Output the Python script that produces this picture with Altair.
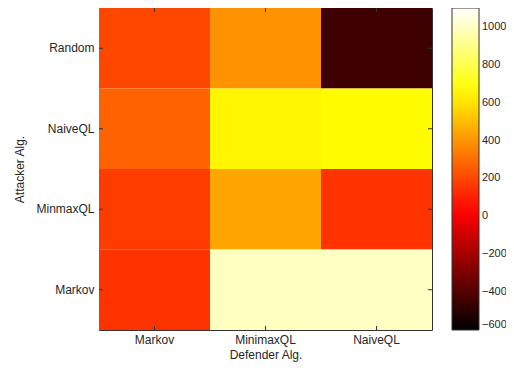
import altair as alt
import pandas as pd

attackers = ["Random", "NaiveQL", "MinmaxQL", "Markov"]
defenders = ["Markov", "MinimaxQL", "NaiveQL"]
# rows follow attackers, columns follow defenders
values = [
    [200, 390, -450],
    [270, 645, 660],
    [172, 441, 150],
    [150, 992, 1000],
]
legend_ticks = [-600, -400, -200, 0, 200, 400, 600, 800, 1000]

rows = []
for i, a in enumerate(attackers):
    for j, d in enumerate(defenders):
        rows.append({"Attacker": a, "Defender": d, "Value": values[i][j]})
df = pd.DataFrame(rows)
dfx = pd.DataFrame({"Defender": defenders})
dfy = pd.DataFrame({"Attacker": attackers})

W, H = 333, 322
FONT = "Liberation Sans"
TXT = "#262626"
TL = 4

xaxis = alt.Axis(title="Defender Alg.", labelAngle=0, labelPadding=4, titlePadding=4)
yaxis = alt.Axis(title="Attacker Alg.", labelPadding=5, titlePadding=9)
xs = alt.Scale(paddingInner=0, paddingOuter=0)
ys = alt.Scale(paddingInner=0, paddingOuter=0)

heat = alt.Chart(df).mark_rect().encode(
    x=alt.X("Defender:N", sort=defenders, scale=xs, axis=xaxis),
    y=alt.Y("Attacker:N", sort=attackers, scale=ys, axis=yaxis),
    color=alt.Color(
        "Value:Q",
        scale=alt.Scale(
            domain=[-600, 20.6, 668, 1100],
            range=["#000000", "#ff0000", "#ffff00", "#ffffff"],
            interpolate="rgb",
        ),
        legend=alt.Legend(
            title=None,
            values=legend_ticks,
            format="d",
            gradientLength=H,
            gradientThickness=27,
            gradientStrokeColor="#333333",
            gradientStrokeWidth=1,
            labelOverlap=False,
            labelFont=FONT,
            labelFontSize=11,
            labelColor=TXT,
            labelOffset=3,
            offset=20,
            padding=0,
            direction="vertical",
        ),
    ),
)

tick_x_top = alt.Chart(dfx).mark_rule(color="#333333").encode(
    x=alt.X("Defender:N", sort=defenders, bandPosition=0.5, scale=xs, axis=xaxis),
    y=alt.value(0), y2=alt.value(TL),
)
tick_x_bot = alt.Chart(dfx).mark_rule(color="#333333").encode(
    x=alt.X("Defender:N", sort=defenders, bandPosition=0.5, scale=xs, axis=xaxis),
    y=alt.value(H), y2=alt.value(H - TL),
)
tick_y_left = alt.Chart(dfy).mark_rule(color="#333333").encode(
    y=alt.Y("Attacker:N", sort=attackers, bandPosition=0.5, scale=ys, axis=yaxis),
    x=alt.value(0), x2=alt.value(TL),
)
tick_y_right = alt.Chart(dfy).mark_rule(color="#333333").encode(
    y=alt.Y("Attacker:N", sort=attackers, bandPosition=0.5, scale=ys, axis=yaxis),
    x=alt.value(W), x2=alt.value(W - TL),
)

chart = alt.layer(heat, tick_x_top, tick_x_bot, tick_y_left, tick_y_right).properties(
    width=W,
    height=H,
    autosize=alt.AutoSizeParams(type="none"),
    padding={"left": 91, "top": 0, "right": 74, "bottom": 37},
).configure_view(
    stroke="#333333", strokeWidth=1
).configure_axis(
    ticks=False,
    domain=False,
    labelFont=FONT,
    labelFontSize=12,
    labelColor=TXT,
    titleFont=FONT,
    titleFontSize=12,
    titleFontWeight="normal",
    titleColor=TXT,
)

chart.save("out.html", embed_options={"renderer": "svg", "actions": False})
